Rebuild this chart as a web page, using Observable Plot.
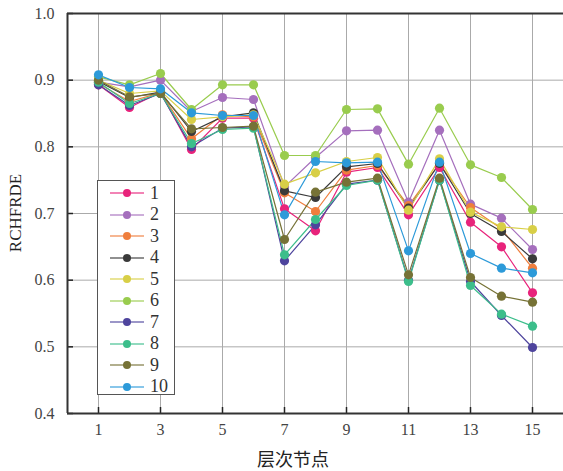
<!DOCTYPE html>
<html><head><meta charset="utf-8">
<script src="https://cdn.jsdelivr.net/npm/d3@7"></script>
<script src="https://cdn.jsdelivr.net/npm/@observablehq/plot@0.6"></script>
<style>
html,body{margin:0;padding:0;background:#fff;}
#wrap{position:relative;width:563px;height:471px;overflow:hidden;font-family:"Liberation Serif","Times New Roman","DejaVu Serif",serif;}
#legend{position:absolute;left:97px;top:180px;width:78px;height:215px;border:1px solid #555;background:#fff;box-sizing:border-box;}
.row{position:absolute;left:0;height:20px;display:flex;align-items:center;}
.row span{font-size:18px;color:#333;margin-left:5px;font-family:"Liberation Serif","Times New Roman",serif;}
#xl{position:absolute;left:0;width:586px;top:445px;text-align:center;font-size:18px;color:#222;font-family:"Noto Sans CJK SC",serif;}
#yl{position:absolute;left:16px;top:213px;transform:translate(-50%,-50%) rotate(-90deg);font-size:17px;color:#222;white-space:nowrap;font-family:"Liberation Serif","Times New Roman",serif;}
</style></head>
<body><div id="wrap"></div>
<script>
const xNodes = [1,2,3,4,5,6,7,8,9,10,11,12,13,14,15];
const seriesNames = ["1","2","3","4","5","6","7","8","9","10"];
const seriesColors = ["#e8237b","#a56fbd","#ef7e3d","#3a3a3a","#d8cf47","#99cc4e","#4e449d","#3cbe8b","#767236","#2c9ad9"];
const s1  = [0.893,0.859,0.882,0.796,0.843,0.843,0.707,0.674,0.762,0.769,0.698,0.769,0.687,0.650,0.581];
const s2  = [0.897,0.890,0.900,0.853,0.874,0.871,0.740,0.784,0.824,0.825,0.717,0.825,0.714,0.693,0.646];
const s3  = [0.895,0.868,0.881,0.812,0.848,0.845,0.731,0.703,0.765,0.772,0.712,0.775,0.709,0.677,0.618];
const s4  = [0.898,0.874,0.882,0.823,0.845,0.851,0.734,0.724,0.770,0.775,0.708,0.775,0.700,0.673,0.632];
const s5  = [0.900,0.880,0.884,0.841,0.845,0.848,0.744,0.761,0.778,0.784,0.705,0.782,0.702,0.680,0.676];
const s6  = [0.905,0.893,0.910,0.856,0.893,0.893,0.787,0.787,0.856,0.857,0.774,0.858,0.773,0.754,0.706];
const s7  = [0.893,0.862,0.880,0.800,0.828,0.830,0.629,0.683,0.744,0.750,0.600,0.750,0.598,0.547,0.499];
const s8  = [0.897,0.865,0.880,0.805,0.826,0.828,0.638,0.691,0.742,0.750,0.598,0.750,0.592,0.549,0.531];
const s9  = [0.900,0.875,0.880,0.827,0.829,0.831,0.661,0.732,0.747,0.753,0.608,0.753,0.604,0.576,0.567];
const s10 = [0.908,0.889,0.887,0.851,0.847,0.847,0.698,0.778,0.776,0.777,0.644,0.777,0.640,0.618,0.611];
const allSeries = [s1,s2,s3,s4,s5,s6,s7,s8,s9,s10];
const xTicks = [1,3,5,7,9,11,13,15];
const yTicks = [0.4,0.5,0.6,0.7,0.8,0.9,1.0];

const data = [];
allSeries.forEach((vals, i) => vals.forEach((v, j) => data.push({s: seriesNames[i], x: xNodes[j], y: v})));

const serif = "'Liberation Serif', 'Times New Roman', serif";
const font = {fontSize: 16, fill: "#444", fontFamily: serif};
const chart = Plot.plot({
  width: 563, height: 471,
  marginLeft: 67, marginRight: 0, marginTop: 13, marginBottom: 58,
  style: {fontFamily: serif, background: "#fff"},
  x: {domain: [0, 16]},
  y: {domain: [0.4, 1.0]},
  color: {domain: seriesNames, range: seriesColors},
  marks: [
    Plot.gridX(xTicks, {stroke: "#aaa", strokeOpacity: 1, strokeWidth: 1}),
    Plot.gridY(yTicks.slice(1, -1), {stroke: "#aaa", strokeOpacity: 1, strokeWidth: 1}),
    Plot.axisX(xTicks, {tickSize: -6, tickPadding: 16, stroke: "#222", strokeWidth: 1.5, label: null, ...font}),
    Plot.axisY(yTicks, {tickSize: -6, tickPadding: 19, stroke: "#222", strokeWidth: 1.5, label: null, tickFormat: d3.format(".1f"), ...font}),
    Plot.ruleY([0.4, 1.0], {stroke: "#333", strokeWidth: 2}),
    Plot.ruleX([0], {stroke: "#333", strokeWidth: 2}),
    Plot.line(data, {x: "x", y: "y", z: "s", stroke: "s", strokeWidth: 1.2}),
    Plot.dot(data, {x: "x", y: "y", fill: "s", r: 4.6})
  ]
});
const wrap = document.getElementById("wrap");
wrap.appendChild(chart);

const xl = document.createElement("div"); xl.id = "xl"; xl.textContent = "层次节点"; wrap.appendChild(xl);
const yl = document.createElement("div"); yl.id = "yl"; yl.textContent = "RCHFRDE"; wrap.appendChild(yl);

const leg = document.createElement("div"); leg.id = "legend";
seriesNames.forEach((n, i) => {
  const row = document.createElement("div"); row.className = "row";
  row.style.top = (2 + i * 21.5) + "px";
  row.style.left = "11px";
  const c = seriesColors[i];
  row.innerHTML = `<svg width="36" height="20"><line x1="1" x2="35" y1="10" y2="10" stroke="${c}" stroke-opacity="0.75" stroke-width="1.3"/><circle cx="18" cy="10" r="4" fill="${c}"/></svg><span>${n}</span>`;
  leg.appendChild(row);
});
wrap.appendChild(leg);
</script></body></html>
